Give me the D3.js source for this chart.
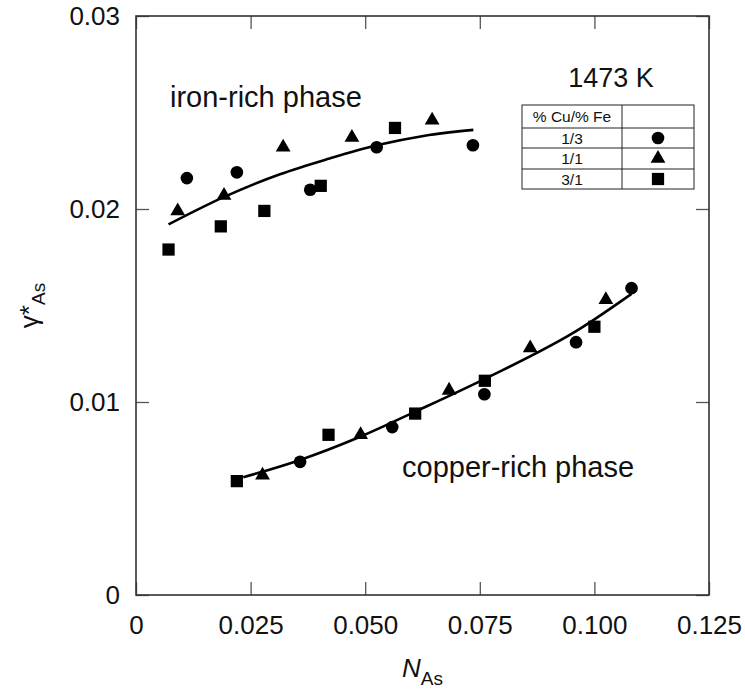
<!DOCTYPE html>
<html>
<head>
<meta charset="utf-8">
<script src="https://cdn.jsdelivr.net/npm/d3@7"></script>
<style>
  body { margin: 0; background: #fff; }
  text { font-family: "Liberation Sans", Arial, sans-serif; fill: #111; }
</style>
</head>
<body>
<div id="chart_container"></div>
<script>
// tick values
const xTicks = [0, 0.025, 0.05, 0.075, 0.1, 0.125];
const xTickLabels = ["0", "0.025", "0.050", "0.075", "0.100", "0.125"];
const yTicks = [0, 0.01, 0.02, 0.03];
const yTickLabels = ["0", "0.01", "0.02", "0.03"];

// iron-rich phase
const ironCircleN = [0.0111, 0.0220, 0.0380, 0.0525, 0.0735];
const ironCircleG = [0.0216, 0.0219, 0.0210, 0.0232, 0.0233];
const ironTriN = [0.0091, 0.0192, 0.0321, 0.0471, 0.0646];
const ironTriG = [0.0199, 0.0207, 0.0232, 0.0237, 0.0246];
const ironSqN = [0.0071, 0.0185, 0.0280, 0.0403, 0.0565];
const ironSqG = [0.0179, 0.0191, 0.0199, 0.0212, 0.0242];
const ironFitN = [0.0071, 0.0190, 0.0314, 0.0420, 0.0525, 0.0630, 0.0736];
const ironFitG = [0.0192, 0.0206, 0.0218, 0.0226, 0.0233, 0.0238, 0.0241];

// copper-rich phase
const copperCircleN = [0.0358, 0.0559, 0.0760, 0.0960, 0.1081];
const copperCircleG = [0.0069, 0.0087, 0.0104, 0.0131, 0.0159];
const copperTriN = [0.0276, 0.0490, 0.0683, 0.0860, 0.1025];
const copperTriG = [0.0062, 0.0083, 0.0106, 0.0128, 0.0153];
const copperSqN = [0.0220, 0.0420, 0.0609, 0.0761, 0.1000];
const copperSqG = [0.0059, 0.0083, 0.0094, 0.0111, 0.0139];
const copperFitN = [0.0234, 0.0358, 0.0489, 0.0609, 0.0761, 0.0969, 0.1081];
const copperFitG = [0.0061, 0.0070, 0.0082, 0.0095, 0.0112, 0.0138, 0.0156];

// legend
const legendRatios = ["1/3", "1/1", "3/1"];
const legendShapes = ["circle", "triangle", "square"];

function zip(a, b) { return a.map((v, i) => [v, b[i]]); }

const width = 745, height = 690;
const margin = {top: 16, right: 36, bottom: 95, left: 136};
const plotW = width - margin.left - margin.right;
const plotH = height - margin.top - margin.bottom;

const svg = d3.select("#chart_container")
    .append("svg")
    .attr("width", width)
    .attr("height", height);

const g = svg.append("g")
    .attr("transform", "translate(" + margin.left + "," + margin.top + ")");

const x = d3.scaleLinear().domain([0, 0.125]).range([0, plotW]);
const y = d3.scaleLinear().domain([0, 0.03]).range([plotH, 0]);

const tickLen = 13;

// axes: ticks pointing inward on all four sides
g.append("g")
    .attr("transform", "translate(0," + plotH + ")")
    .call(d3.axisBottom(x).tickValues(xTicks).tickSizeInner(-tickLen).tickSizeOuter(0).tickFormat((d, i) => xTickLabels[i]))
    .call(a => a.selectAll("text").attr("dy", null).attr("y", 39).style("font-size", "26px"));
g.append("g")
    .call(d3.axisTop(x).tickValues(xTicks).tickSizeInner(-tickLen).tickSizeOuter(0).tickFormat(""));
g.append("g")
    .call(d3.axisLeft(y).tickValues(yTicks).tickSizeInner(-tickLen).tickSizeOuter(0).tickFormat((d, i) => yTickLabels[i]))
    .call(a => a.selectAll("text").attr("x", -16).style("font-size", "26px"));
g.append("g")
    .attr("transform", "translate(" + plotW + ",0)")
    .call(d3.axisRight(y).tickValues(yTicks).tickSizeInner(-tickLen).tickSizeOuter(0).tickFormat(""));

g.selectAll(".domain").remove();
g.selectAll(".tick line").attr("stroke", "#555").attr("stroke-width", 1.3);
g.selectAll(".tick text").attr("fill", "#111").style("font-family", "'Liberation Sans', Arial, sans-serif");

g.append("rect")
    .attr("width", plotW).attr("height", plotH)
    .attr("fill", "none").attr("stroke", "#333").attr("stroke-width", 1.6);

// fit lines
const line = d3.line().x(d => x(d[0])).y(d => y(d[1])).curve(d3.curveMonotoneX);
[zip(ironFitN, ironFitG), zip(copperFitN, copperFitG)].forEach(pts => {
    g.append("path").datum(pts)
        .attr("d", line)
        .attr("fill", "none").attr("stroke", "#000").attr("stroke-width", 2.6);
});

// markers
const symbolFor = {
    circle: d3.symbol().type(d3.symbolCircle).size(125),
    triangle: d3.symbol().type(d3.symbolTriangle).size(95),
    square: d3.symbol().type(d3.symbolSquare).size(150)
};

const series = [
    {shape: "circle", pts: zip(ironCircleN, ironCircleG).concat(zip(copperCircleN, copperCircleG))},
    {shape: "triangle", pts: zip(ironTriN, ironTriG).concat(zip(copperTriN, copperTriG))},
    {shape: "square", pts: zip(ironSqN, ironSqG).concat(zip(copperSqN, copperSqG))}
];

series.forEach(s => {
    g.append("g").selectAll("path")
        .data(s.pts)
        .enter()
        .append("path")
            .attr("d", symbolFor[s.shape])
            .attr("transform", d => "translate(" + x(d[0]) + "," + y(d[1]) + ")")
            .attr("fill", "#000");
});

// phase labels
svg.append("text").attr("x", 170).attr("y", 107).style("font-size", "29px").text("iron-rich phase");
svg.append("text").attr("x", 402).attr("y", 477).style("font-size", "29px").text("copper-rich phase");

// temperature
svg.append("text").attr("x", 611).attr("y", 87).attr("text-anchor", "middle")
    .style("font-size", "27px").text("1473 K");

// legend table
const tblX = 522, tblY = 105, col1 = 100, col2 = 72;
const rowH = [23, 20, 21, 20];
const tbl = svg.append("g");
let yy = tblY;
const rowTops = [];
rowH.forEach(h => { rowTops.push(yy); yy += h; });
tbl.append("rect").attr("x", tblX).attr("y", tblY).attr("width", col1 + col2).attr("height", yy - tblY)
    .attr("fill", "#fff").attr("stroke", "#222").attr("stroke-width", 1);
rowTops.slice(1).forEach(t => {
    tbl.append("line").attr("x1", tblX).attr("x2", tblX + col1 + col2).attr("y1", t).attr("y2", t)
        .attr("stroke", "#222").attr("stroke-width", 1);
});
tbl.append("line").attr("x1", tblX + col1).attr("x2", tblX + col1).attr("y1", tblY).attr("y2", yy)
    .attr("stroke", "#222").attr("stroke-width", 1);
tbl.append("text").attr("x", tblX + col1 / 2).attr("y", rowTops[0] + rowH[0] / 2).attr("dy", "0.36em")
    .attr("text-anchor", "middle").style("font-size", "15.5px").text("% Cu/% Fe");
legendRatios.forEach((r, i) => {
    const cy = rowTops[i + 1] + rowH[i + 1] / 2;
    tbl.append("text").attr("x", tblX + col1 / 2).attr("y", cy).attr("dy", "0.36em")
        .attr("text-anchor", "middle").style("font-size", "15.5px").text(r);
    tbl.append("path").attr("d", symbolFor[legendShapes[i]])
        .attr("transform", "translate(" + (tblX + col1 + col2 / 2) + "," + cy + ")")
        .attr("fill", "#000");
});

// axis titles
const xt = svg.append("text").attr("x", margin.left + plotW / 2).attr("y", 677).attr("text-anchor", "middle")
    .style("font-size", "26px");
xt.append("tspan").style("font-style", "italic").text("N");
xt.append("tspan").attr("dy", 8).style("font-size", "19px").text("As");

const yt = svg.append("text")
    .attr("transform", "translate(38," + (margin.top + plotH / 2) + ") rotate(-90)")
    .attr("text-anchor", "middle").style("font-size", "26px");
yt.append("tspan").text("γ*");
yt.append("tspan").attr("dy", 7).style("font-size", "19px").text("As");
</script>
</body>
</html>
